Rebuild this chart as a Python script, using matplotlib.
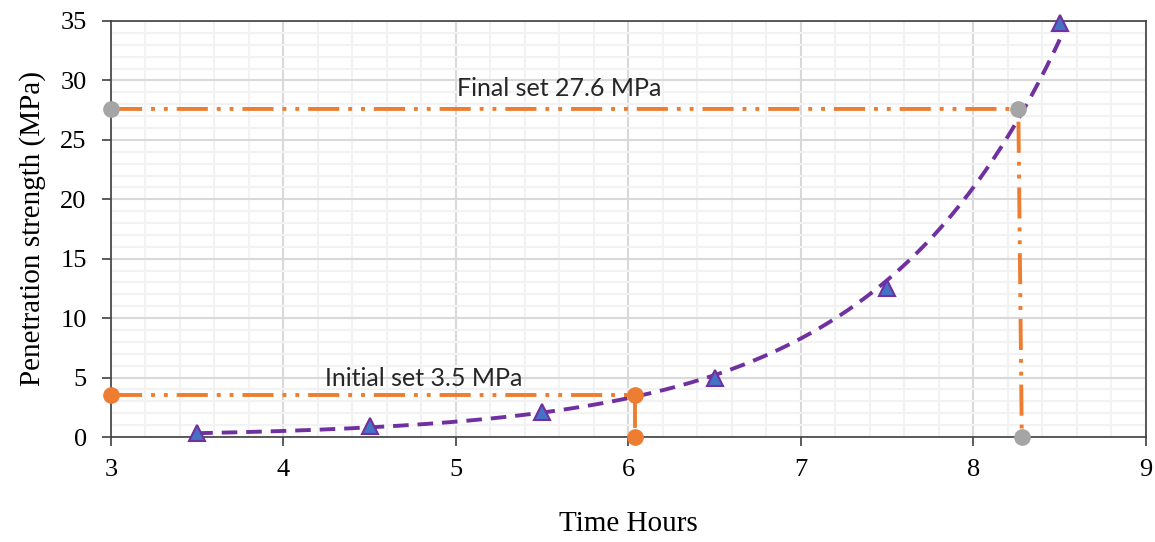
import numpy as np
import matplotlib
matplotlib.use('Agg')
import matplotlib.pyplot as plt
from matplotlib.ticker import MultipleLocator

# measured penetration strength
time_h = [3.5, 4.5, 5.5, 6.5, 7.5, 8.5]
strength = [0.3, 0.9, 2.1, 5.0, 12.5, 34.8]

# set-time guide lines
final_x = [3.0, 8.26, 8.28]
final_y = [27.6, 27.6, 0.0]
initial_x = [3.0, 6.04, 6.04]
initial_y = [3.5, 3.5, 0.0]

purple = '#7030A0'
orange = '#ED7D31'

fig = plt.figure(figsize=(11.55, 5.42), dpi=100)
ax = fig.add_axes([0.0961, 0.1937, 0.8961, 0.7676])

# exponential trendline (least squares on log y, like Excel)
b, a = np.polyfit(time_h, np.log(strength), 1)
xt = np.linspace(min(time_h), max(time_h), 200)
ax.plot(xt, np.exp(a + b * xt), color=purple, lw=2.8, dashes=(4, 2.3), zorder=3)

ax.plot(time_h, strength, ls='none', marker='^', ms=11, mfc='#4472C4',
        mec=purple, mew=1.5, zorder=4, clip_on=False)

dd = (0, (8, 2.3, 1, 2.3, 1, 2.3))
ax.plot(final_x, final_y, color=orange, lw=2.8, ls=dd, marker='o', ms=11,
        mfc='#A5A5A5', mec='#A5A5A5', zorder=3, clip_on=False)
ax.plot(initial_x, initial_y, color=orange, lw=2.8, ls=dd, marker='o', ms=11,
        mfc=orange, mec=orange, zorder=3, clip_on=False)

ax.text(5.6, 29.3, 'Final set 27.6 MPa', fontsize=18, family='Lato',
        color='#262626', ha='center', va='center')
ax.text(4.81, 4.9, 'Initial set 3.5 MPa', fontsize=18, family='Lato',
        color='#262626', ha='center', va='center')

ax.set_xlim(3, 9)
ax.set_ylim(0, 35)
ax.xaxis.set_major_locator(MultipleLocator(1))
ax.xaxis.set_minor_locator(MultipleLocator(0.2))
ax.yaxis.set_major_locator(MultipleLocator(5))
ax.yaxis.set_minor_locator(MultipleLocator(1))
ax.grid(which='minor', color='#F2F2F2', lw=1.5)
ax.grid(which='major', color='#D9D9D9', lw=1.5)
ax.set_axisbelow(True)
ax.tick_params(which='minor', length=0)
ax.tick_params(which='major', length=6.5, width=1.2, color='#404040',
               labelsize=19)
ax.tick_params(axis='y', pad=11)
ax.tick_params(axis='x', pad=9)
for lab in ax.get_xticklabels() + ax.get_yticklabels():
    lab.set_family('Liberation Serif')
for s in ax.spines.values():
    s.set_color('#404040')
    s.set_linewidth(1.2)

ax.set_xlabel('Time Hours', family='Liberation Serif', fontsize=21, labelpad=22)
ax.set_ylabel('Penetration strength (MPa)', family='Liberation Serif',
              fontsize=21, labelpad=10)

fig.savefig('out.png', dpi=100)
